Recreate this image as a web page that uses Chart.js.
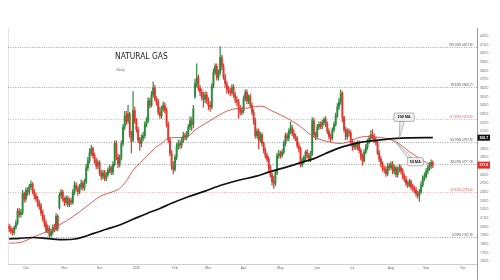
<!DOCTYPE html>
<html><head><meta charset="utf-8">
<script src="https://cdn.jsdelivr.net/npm/chart.js@4.4.1/dist/chart.umd.min.js"></script>
<style>html,body{margin:0;padding:0;background:#fff}canvas{display:block}</style>
</head><body>
<canvas id="c" width="500" height="280"></canvas>
<script>
// trading-day index of the first candle (day 0 = 1 Oct 2024)
const firstDay = -10;
const open = [
200,198,195,193,199,204,218,214,216,238,
232,242,240,246,249,240,236,232,226,224,
216,210,204,196,198,190,194,199,197,212,
222,236,240,231,228,233,226,230,228,240,
248,244,240,246,250,245,252,268,276,285,
290,282,276,270,274,262,258,262,256,260,
265,268,263,272,296,280,272,280,296,315,
328,322,330,306,300,334,322,312,300,296,
302,305,318,322,345,340,352,360,348,344,
332,328,336,340,334,318,300,285,270,266,
280,292,296,294,300,305,303,307,315,322,
318,350,365,372,360,355,350,347,352,345,
340,338,362,378,385,372,378,395,385,372,
365,358,356,355,361,352,346,344,336,332,
334,348,355,345,350,340,332,322,305,310,
300,306,296,288,282,278,268,260,252,250,
262,282,284,282,286,296,305,302,310,314,
308,304,302,294,290,272,276,280,286,282,
278,284,322,306,304,315,318,316,320,324,
318,310,304,302,312,318,328,338,344,354,
326,312,304,310,308,298,292,295,292,296,
288,280,276,286,292,298,302,306,304,300,
297,285,278,272,267,266,261,270,268,272,
264,268,260,266,268,264,258,255,250,248,
252,246,244,242,238,236,240,248,256,258,
264,268,270,274];
const high = [
203,201,198,201,207,221,221,220,242,240,
245,245,249,253,251,243,239,235,230,227,
219,213,207,202,201,197,202,203,215,214,
239,243,242,234,236,235,233,233,243,252,
251,247,249,254,253,255,272,280,290,294,
292,285,279,277,276,265,265,265,263,268,
271,270,275,299,299,284,283,299,318,333,
333,340,332,310,356,338,325,315,303,306,
309,321,326,349,348,356,367,363,350,347,
338,339,344,343,337,321,303,288,275,283,
296,300,299,303,309,308,310,318,327,326,
340,370,388,375,363,359,355,356,355,349,
344,365,382,388,388,381,407.8,398,388,376,
368,362,360,364,364,355,350,347,340,338,
351,358,358,352,353,343,335,325,313,313,
309,308,298,291,285,281,271,262,258,266,
285,288,287,289,299,308,308,313,321,317,
312,307,304,297,292,279,282,288,289,285,
287,326,325,309,318,321,321,323,326,327,
321,313,307,314,321,331,342,348,358,356,
328,315,313,313,311,301,298,298,299,299,
290,284,289,295,301,305,311,312,307,303,
299,288,281,275,270,269,273,273,275,275,
271,270,269,272,271,267,261,258,253,255,
254,249,247,245,241,243,252,259,262,267,
271,274,277,276];
const low = [
194,192,190,191,197,202,211,211,214,228,
229,236,237,243,238,232,229,223,220,213,
207,200,193,193,187.9,188,191,194,195,195,
220,233,229,224,225,223,223,225,226,237,
241,236,238,243,242,242,250,265,273,282,
279,273,267,267,259,254,255,253,253,258,
262,260,260,270,277,268,269,277,293,312,
318,319,303,285,298,319,309,297,288,292,
299,302,315,320,337,338,349,345,340,329,
325,325,333,331,315,297,282,266,261,264,
277,289,290,291,297,300,300,304,312,311,
314,348,361,357,351,346,338,343,342,335,
333,336,360,375,369,369,375,381,370,361,
354,353,351,352,349,343,340,325,329,329,
331,345,342,342,337,329,318,302,302,290,
297,293,285,279,275,265,257,248,244,247,
260,279,279,280,284,293,299,299,307,305,
301,299,291,286,269,269,273,277,279,275,
275,282,303,300,301,312,313,313,317,315,
307,301,298,300,309,316,326,335,341,321,
309,300,301,304,295,288,289,289,289,285,
277,271,274,284,289,296,299,301,297,294,
283,275,269,264,262,258,259,265,266,261,
261,257,257,263,261,255,252,247,245,246,
243,241,239,235,233,229,238,246,253,256,
261,265,267,268];
const close = [
198,195,193,199,204,218,214,216,238,232,
242,240,246,249,240,236,232,226,224,216,
210,204,196,198,190,194,199,197,212,198,
236,240,231,228,233,226,230,228,240,248,
244,240,246,250,245,252,268,276,285,290,
282,276,270,274,262,258,262,256,260,265,
268,263,272,296,280,272,280,296,315,328,
322,330,306,298,334,322,312,300,296,302,
305,318,322,345,340,352,360,348,344,332,
328,336,340,334,318,300,285,270,266,280,
292,296,294,300,305,303,307,315,322,318,
336,365,372,360,355,350,347,352,345,340,
338,362,378,385,372,378,395,385,372,365,
358,356,355,361,352,346,344,336,332,334,
348,355,345,350,340,332,322,305,310,300,
306,296,288,282,278,268,260,252,250,262,
282,284,282,286,296,305,302,310,314,308,
304,302,294,290,272,276,280,286,282,278,
284,322,306,304,315,318,316,320,324,318,
310,304,302,312,318,328,338,344,354,326,
312,304,310,308,298,292,295,292,296,288,
280,276,286,292,298,302,306,304,300,297,
285,278,272,267,266,261,270,268,272,264,
268,260,266,268,264,258,255,250,248,252,
246,244,242,238,236,240,248,256,258,264,
268,270,274,271];

const ma50Day = [-10,-4,4,12,20,28,36,44,52,56,60,64,72,77,81,85,93,97,101,107,113,119,125,131,137,141,146,152,158,164,170,175,181,187,193,199,205,211,217,223,229,235,239,243];
const ma50 = [181,181.5,187.5,194,202,211.5,223,234.5,240.5,244,253,265,281,290.5,296,302,303,304.5,311.5,319,326,332.5,336,336.5,338.5,339,334.5,329,323,315.5,306,301,298,296,298,303,304,303,301,295.5,286.5,279,274,271];
const ma200Day = [-10,-4,4,12,20,28,34,40,48,56,64,72,80,87,97,107,117,127,137,146,156,166,172,179,189,199,209,219,229,243];
const ma200 = [186,186.5,187.5,186.5,185,185.5,188,192,197,202,208.5,215,221,227,234.5,241,248,253.5,258,263.5,269,275,278.5,284.5,292,297,299.5,301.5,302.5,302.7];

const monthDay = [0,23,44,66,89,109,130,152,174,195,218,239,261];
const monthLabels = ['Oct','Nov','Dec','2025','Feb','Mar','Apr','May','Jun','Jul','Aug','Sep','Oct'];
const priceTicks = [160,170,180,190,200,210,220,230,240,250,260,270,280,290,300,310,320,330,340,350,360,370,380,390,400,410,420];

const fibPct = ['100.00%','78.60%','61.80%','50.00%','38.20%','23.60%','0.00%'];
const fibPrice = [407.8,360.7,323.8,297.8,271.9,239.8,187.9];
const fibRed = [false,false,true,false,false,true,false];

const GREEN = '#2f8a3e', RED = '#dc3b32';
const days = close.map((_, k) => firstDay + k);
const upDown = k => close[k] >= open[k] ? GREEN : RED;

const wicks = days.map((d, k) => ({x: d, y: [low[k], high[k]]}));
const bodies = days.map((d, k) => ({x: d, y: [Math.min(open[k], close[k]), Math.max(open[k], close[k])]}));

function callout(ctx, text, tipX, tipY, bx, by, bw, bh, baseA, baseB) {
  ctx.save();
  ctx.fillStyle = '#eeeeee';
  ctx.strokeStyle = '#777';
  ctx.lineWidth = 0.5;
  ctx.beginPath();
  ctx.moveTo(tipX, tipY);
  ctx.lineTo(baseA[0], baseA[1]);
  ctx.lineTo(baseB[0], baseB[1]);
  ctx.closePath();
  ctx.fill(); ctx.stroke();
  ctx.beginPath();
  if (ctx.roundRect) ctx.roundRect(bx, by, bw, bh, 1.5); else ctx.rect(bx, by, bw, bh);
  ctx.fill(); ctx.stroke();
  ctx.fillStyle = '#222';
  ctx.font = 'bold 3.6px "Open Sans", sans-serif';
  ctx.textAlign = 'center'; ctx.textBaseline = 'middle';
  ctx.fillText(text, bx + bw / 2, by + bh / 2 + 0.2);
  ctx.restore();
}

const deco = {
  id: 'deco',
  beforeDatasetsDraw(chart) {
    const {ctx, chartArea: a, scales: {y}} = chart;
    ctx.save();
    ctx.strokeStyle = '#e4e4e4'; ctx.lineWidth = 1;
    ctx.beginPath(); ctx.moveTo(a.left + 0.5, a.top); ctx.lineTo(a.left + 0.5, a.bottom); ctx.stroke();
    ctx.strokeStyle = '#cfcfcf';
    ctx.beginPath(); ctx.moveTo(a.left, a.bottom + 0.5); ctx.lineTo(a.right, a.bottom + 0.5); ctx.stroke();
    ctx.strokeStyle = '#9a9a9a';
    ctx.beginPath(); ctx.moveTo(a.right + 0.5, a.top); ctx.lineTo(a.right + 0.5, 280); ctx.stroke();
    fibPrice.forEach((p, k) => {
      const py = Math.round(y.getPixelForValue(p)) + 0.5;
      ctx.strokeStyle = fibRed[k] ? '#e39a9a' : '#8c8c8c';
      ctx.lineWidth = 0.8;
      ctx.setLineDash([1, 1.4]);
      ctx.beginPath(); ctx.moveTo(a.left, py); ctx.lineTo(a.right, py); ctx.stroke();
      ctx.setLineDash([]);
      ctx.fillStyle = fibRed[k] ? '#d9534f' : '#444';
      ctx.font = '3.3px "Open Sans", sans-serif';
      ctx.textAlign = 'right'; ctx.textBaseline = 'alphabetic';
      ctx.fillText(fibPct[k] + ' (' + p.toFixed(1) + ')', a.right - 4.5, py - 1.6);
    });
    ctx.fillStyle = '#1e1e1e';
    ctx.textAlign = 'left'; ctx.textBaseline = 'alphabetic';
    ctx.font = '8.4px "Liberation Sans Narrow", "DejaVu Sans Condensed", sans-serif';
    ctx.fillText('NATURAL GAS', 115, 59);
    ctx.fillStyle = '#555';
    ctx.font = '3.6px "Open Sans", sans-serif';
    ctx.fillText('Daily', 116.5, 71);
    ctx.restore();
  },
  afterDraw(chart) {
    const {ctx, chartArea: a, scales: {x, y}} = chart;
    const t2x = x.getPixelForValue(223), t2y = y.getPixelForValue(301.8);
    callout(ctx, '200 MA', t2x, t2y, t2x - 5.5, t2y - 25.5, 20.5, 8.5,
            [t2x + 0.5, t2y - 17], [t2x + 5, t2y - 17]);
    const t5x = x.getPixelForValue(220), t5y = y.getPixelForValue(299.5);
    callout(ctx, '50 MA', t5x, t5y, t5x + 13, t5y + 17, 16, 8.5,
            [t5x + 13.5, t5y + 17.5], [t5x + 18, t5y + 17.5]);
    ctx.save();
    ctx.font = 'bold 3.4px "Open Sans", sans-serif';
    ctx.textAlign = 'center'; ctx.textBaseline = 'middle';
    const lastMA = ma200[ma200.length - 1];
    const yb = y.getPixelForValue(lastMA);
    ctx.fillStyle = '#111';
    ctx.fillRect(a.right + 0.5, yb - 3, 12.5, 6);
    ctx.fillStyle = '#fff';
    ctx.fillText(lastMA.toFixed(1), a.right + 6.8, yb + 0.2);
    const lastClose = close[close.length - 1];
    const yr = y.getPixelForValue(lastClose);
    ctx.fillStyle = '#e0322b';
    ctx.fillRect(a.right + 0.5, yr - 3.5, 12.5, 7);
    ctx.fillStyle = '#fff';
    ctx.fillText(lastClose.toFixed(1), a.right + 6.8, yr + 0.2);
    ctx.restore();
  }
};

new Chart(document.getElementById('c'), {
  type: 'bar',
  data: {
    datasets: [
      {type: 'line', data: ma200Day.map((d, k) => ({x: d, y: ma200[k]})), borderColor: '#111', borderWidth: 1.7,
       pointRadius: 0, cubicInterpolationMode: 'monotone', order: 0},
      {type: 'line', data: ma50Day.map((d, k) => ({x: d, y: ma50[k]})), borderColor: '#d94a45', borderWidth: 0.9,
       pointRadius: 0, cubicInterpolationMode: 'monotone', order: 0},
      {data: bodies, barThickness: 1.25, minBarLength: 0.8, grouped: false, order: 1,
       backgroundColor: c => upDown(c.dataIndex), borderWidth: 0},
      {data: wicks, barThickness: 0.55, grouped: false, order: 2,
       backgroundColor: c => upDown(c.dataIndex), borderWidth: 0}
    ]
  },
  options: {
    responsive: false,
    animation: false,
    devicePixelRatio: 1,
    layout: {padding: {left: 8, top: 28, right: 0, bottom: 0}},
    plugins: {legend: {display: false}, tooltip: {enabled: false}},
    scales: {
      x: {
        type: 'linear', min: -10.7, max: 269.4, offset: false,
        grid: {display: false, drawTicks: false}, border: {display: false},
        afterBuildTicks: s => { s.ticks = monthDay.map(v => ({value: v})); },
        afterFit: s => { s.height = 16; },
        ticks: {autoSkip: false, maxRotation: 0, padding: 2, color: '#555',
                font: {size: 3.3, family: '"Open Sans", sans-serif'},
                callback: v => monthLabels[monthDay.indexOf(v)]}
      },
      y: {
        position: 'right', min: 156.92, max: 429.23,
        grid: {display: false, drawTicks: false}, border: {display: false},
        afterBuildTicks: s => { s.ticks = priceTicks.map(v => ({value: v})); },
        afterFit: s => { s.width = 23; },
        ticks: {padding: 3, color: '#555', autoSkip: false,
                font: {size: 3.3, family: '"Open Sans", sans-serif'},
                callback: v => Number(v).toFixed(1)}
      }
    }
  },
  plugins: [deco]
});
</script>
</body></html>
